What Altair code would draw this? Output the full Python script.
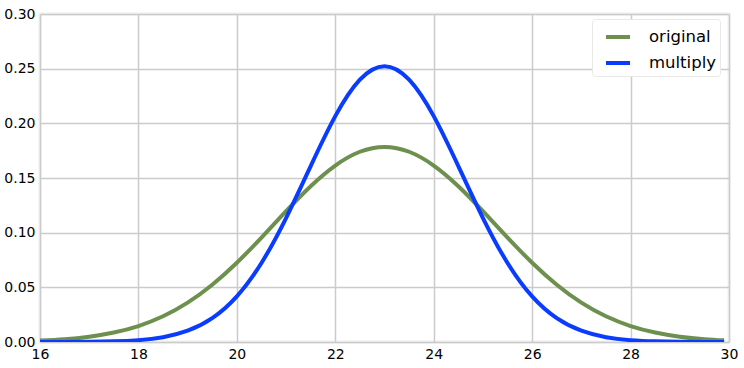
import altair as alt
import pandas as pd

xs = [16, 16.5, 17, 17.5, 18, 18.5, 19, 19.5, 20, 20.5, 21, 21.5, 22, 22.5, 23,
      23.5, 24, 24.5, 25, 25.5, 26, 26.5, 27, 27.5, 28, 28.5, 29, 29.5, 29.9]
original = [0.0013, 0.0026, 0.0049, 0.0087, 0.0146, 0.0235, 0.0360, 0.0524, 0.0725,
            0.0955, 0.1196, 0.1425, 0.1614, 0.1740, 0.1784, 0.1740, 0.1614, 0.1425,
            0.1196, 0.0955, 0.0725, 0.0524, 0.0360, 0.0235, 0.0146, 0.0087, 0.0049,
            0.0026, 0.0015]
multiply = [0.0000, 0.0001, 0.0002, 0.0006, 0.0017, 0.0044, 0.0103, 0.0218, 0.0417,
            0.0723, 0.1134, 0.1609, 0.2066, 0.2400, 0.2523, 0.2400, 0.2066, 0.1609,
            0.1134, 0.0723, 0.0417, 0.0218, 0.0103, 0.0044, 0.0017, 0.0006, 0.0002,
            0.0001, 0.0000]
series_names = ["original", "multiply"]
series_colors = ["#6d904f", "#0a3cff"]

rows = []
for name, vals in zip(series_names, [original, multiply]):
    for x, v in zip(xs, vals):
        rows.append({"x": x, "y": v, "series": name})
df = pd.DataFrame(rows)

chart = alt.Chart(df).mark_line(strokeWidth=4, interpolate="natural", clip=True).encode(
    x=alt.X("x:Q", scale=alt.Scale(domain=[16, 30], nice=False, zero=False),
            axis=alt.Axis(values=list(range(16, 31, 2)), title=None, format="d",
                          labelFlush=False)),
    y=alt.Y("y:Q", scale=alt.Scale(domain=[0, 0.3], nice=False),
            axis=alt.Axis(values=[0, 0.05, 0.1, 0.15, 0.2, 0.25, 0.3], format=".2f",
                          title=None, labelFlush=False)),
    color=alt.Color("series:N", scale=alt.Scale(domain=series_names, range=series_colors),
                    sort=series_names,
                    legend=alt.Legend(title=None, orient="none", legendX=552, legendY=5,
                                      fillColor="white", strokeColor="#e8e8e8",
                                      cornerRadius=3, padding=4,
                                      symbolType="stroke", symbolStrokeWidth=4,
                                      symbolSize=576, symbolOffset=8,
                                      labelFontSize=16.5,
                                      labelFont="DejaVu Sans", labelColor="black",
                                      labelOffset=17, rowPadding=3)),
).properties(
    width=689, height=328,
    autosize=alt.AutoSizeParams(type="none"),
    padding={"left": 40, "top": 14, "right": 15, "bottom": 26},
).configure_view(
    stroke="#f0f0f0", strokeWidth=3
).configure_axis(
    grid=True, gridColor="#cbcbcb", gridWidth=1.5, domain=False, ticks=False,
    labelFont="DejaVu Sans", labelFontSize=14, labelColor="black", labelPadding=5,
)

chart.save("out.html", embed_options={"renderer": "svg", "actions": False})
